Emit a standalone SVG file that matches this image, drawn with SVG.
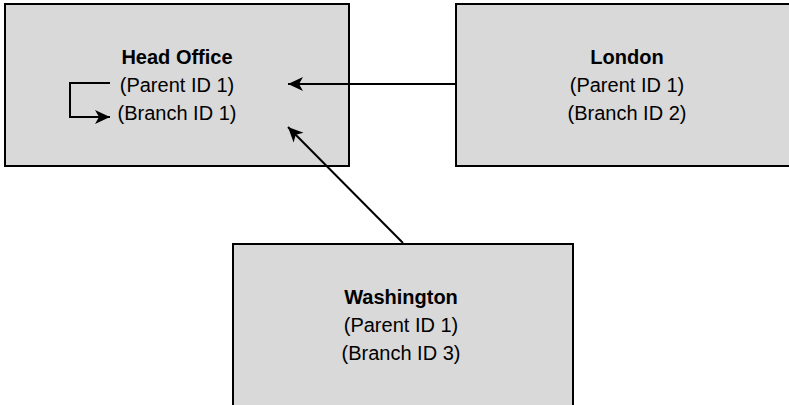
<svg xmlns="http://www.w3.org/2000/svg" width="789" height="405" viewBox="0 0 789 405">
<style>
.box{fill:#d9d9d9;stroke:#000;stroke-width:2}
.t{font-family:"Liberation Sans",Arial,sans-serif;font-size:20px;text-anchor:middle;fill:#000}
.b{font-weight:bold}
.c{fill:none;stroke:#000;stroke-width:2}
</style>
<defs>
<marker id="ah" viewBox="-16 -8 18 16" refX="0" refY="0" markerWidth="18" markerHeight="16" markerUnits="userSpaceOnUse" orient="auto">
<path d="M0,0 L-15,-7 L-11,0 L-15,7 Z" fill="#000"/>
</marker>
</defs>
<g id="head-office">
<rect class="box" x="5" y="4" width="344" height="162"/>
<text class="t b" x="177" y="64">Head Office</text>
<text class="t" x="177" y="92">(Parent ID 1)</text>
<text class="t" x="177" y="120">(Branch ID 1)</text>
</g>
<g id="london">
<rect class="box" x="456" y="4" width="340" height="162"/>
<text class="t b" x="627" y="64">London</text>
<text class="t" x="627" y="92">(Parent ID 1)</text>
<text class="t" x="627" y="120">(Branch ID 2)</text>
</g>
<g id="washington">
<rect class="box" x="233" y="244" width="340" height="170"/>
<text class="t b" x="401" y="304">Washington</text>
<text class="t" x="401" y="332">(Parent ID 1)</text>
<text class="t" x="401" y="360">(Branch ID 3)</text>
</g>
<g id="connectors">
<path class="c" d="M110,83 H70 V117 H110" marker-end="url(#ah)"/>
<path class="c" d="M456,84 H288" marker-end="url(#ah)"/>
<path class="c" d="M403,243 L288,127" marker-end="url(#ah)"/>
</g>
</svg>
